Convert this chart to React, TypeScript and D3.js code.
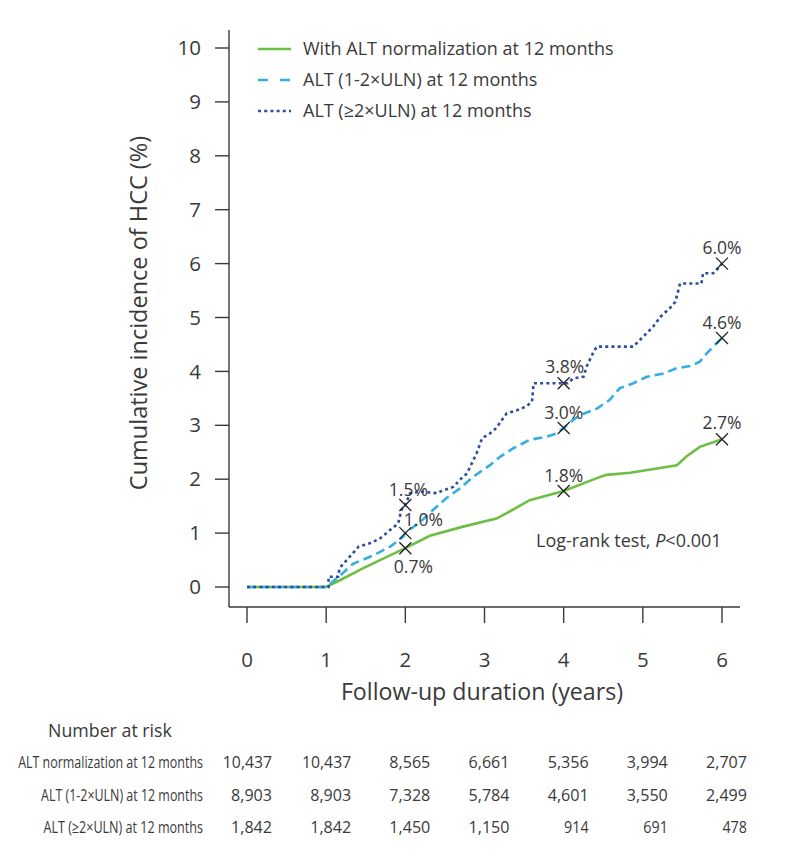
import React from "react";
import * as d3 from "d3";

const years = [0, 1, 2, 3, 4, 5, 6];
const yTicks = [0, 1, 2, 3, 4, 5, 6, 7, 8, 9, 10];

const seriesNames = [
  "With ALT normalization at 12 months",
  "ALT (1-2\u00D7ULN) at 12 months",
  "ALT (\u22652\u00D7ULN)  at 12 months",
];

const normalT = [0, 1.0, 1.18, 1.47, 1.68, 2.0, 2.31, 2.73, 3.15, 3.28, 3.57, 4.0, 4.42, 4.54, 4.84, 5.18, 5.43, 5.55, 5.72, 6.0];
const normalV = [0, 0, 0.13, 0.35, 0.5, 0.72, 0.95, 1.12, 1.27, 1.37, 1.61, 1.78, 2.02, 2.08, 2.12, 2.2, 2.26, 2.42, 2.6, 2.74];

const midT = [0, 1.0, 1.18, 1.34, 1.6, 1.81, 1.97, 2.0, 2.19, 2.35, 2.52, 2.69, 2.86, 3.07, 3.2, 3.36, 3.57, 3.79, 3.91, 4.0, 4.12, 4.21, 4.42, 4.58, 4.71, 4.88, 5.05, 5.26, 5.43, 5.6, 5.72, 5.81, 5.91, 6.0];
const midV = [0, 0, 0.22, 0.43, 0.59, 0.75, 0.93, 1.0, 1.21, 1.43, 1.65, 1.83, 2.05, 2.26, 2.42, 2.57, 2.73, 2.79, 2.85, 2.95, 3.1, 3.19, 3.31, 3.47, 3.69, 3.78, 3.9, 3.96, 4.06, 4.1, 4.18, 4.34, 4.49, 4.62];

const highT = [0, 1.03, 1.03, 1.15, 1.17, 1.26, 1.41, 1.55, 1.68, 1.81, 1.91, 1.95, 2.0, 2.06, 2.19, 2.4, 2.44, 2.61, 2.69, 2.78, 2.9, 2.97, 3.07, 3.15, 3.22, 3.28, 3.41, 3.53, 3.6, 3.62, 4.05, 4.12, 4.25, 4.29, 4.37, 4.42, 4.88, 4.96, 5.05, 5.13, 5.22, 5.34, 5.41, 5.45, 5.47, 5.74, 5.76, 5.89, 5.95, 6.0];
const highV = [0, 0, 0.19, 0.19, 0.35, 0.5, 0.75, 0.81, 0.9, 1.06, 1.18, 1.43, 1.52, 1.74, 1.77, 1.74, 1.77, 1.86, 1.99, 2.11, 2.48, 2.76, 2.85, 2.95, 3.1, 3.22, 3.28, 3.35, 3.44, 3.78, 3.78, 3.87, 3.9, 4.09, 4.34, 4.46, 4.46, 4.58, 4.71, 4.83, 5.01, 5.17, 5.29, 5.51, 5.63, 5.63, 5.82, 5.82, 5.91, 6.0];

const markT = [2, 2, 2, 4, 4, 4, 6, 6, 6];
const markV = [0.72, 1.0, 1.52, 1.78, 2.95, 3.78, 2.74, 4.62, 6.0];
const markLabels = ["0.7%", "1.0%", "1.5%", "1.8%", "3.0%", "3.8%", "2.7%", "4.6%", "6.0%"];

const riskGroups = [
  "ALT normalization at 12 months",
  "ALT (1-2\u00D7ULN) at 12 months",
  "ALT (\u22652\u00D7ULN)  at 12 months",
];
const riskNormal = ["10,437", "10,437", "8,565", "6,661", "5,356", "3,994", "2,707"];
const riskMid = ["8,903", "8,903", "7,328", "5,784", "4,601", "3,550", "2,499"];
const riskHigh = ["1,842", "1,842", "1,450", "1,150", "914", "691", "478"];

const FONT = "'Open Sans', 'Noto Sans', sans-serif";
const TXT = "#3a3a3a";
const COLORS = ["#6fbe44", "#35aee0", "#2d4da0"];
const DASH = [null, "9,5", "3,3.2"];

function measure(text: string, size: number): number {
  try {
    const c = document.createElement("canvas").getContext("2d");
    if (!c) return text.length * size * 0.52;
    c.font = `${size}px 'Open Sans', 'Noto Sans', sans-serif`;
    return c.measureText(text).width;
  } catch (e) {
    return text.length * size * 0.52;
  }
}

export default function App() {
  const x = d3.scaleLinear().domain([0, 6]).range([247, 722]);
  const y = d3.scaleLinear().domain([0, 10]).range([587, 48]);
  const line = d3
    .line<[number, number]>()
    .x((d) => x(d[0]))
    .y((d) => y(d[1]));

  const series = [
    d3.zip(normalT, normalV) as [number, number][],
    d3.zip(midT, midV) as [number, number][],
    d3.zip(highT, highV) as [number, number][],
  ];

  const labelOff: [number, number][] = [
    [8, 19],
    [18, -13],
    [3, -15],
    [0, -15],
    [0, -15],
    [1, -16],
    [0, -16],
    [0, -15],
    [0, -16],
  ];

  const riskRows = [riskNormal, riskMid, riskHigh];
  const riskY = [762, 795, 827];
  const riskLabelW = [185, 162, 163];
  const riskFont = 16.5;

  return (
    <svg
      width={791}
      height={853}
      style={{ position: "absolute", left: 0, top: 0, background: "#fff" }}
      fontFamily={FONT}
    >
      <line x1={229} y1={30} x2={229} y2={607} stroke={TXT} strokeWidth={1.4} />
      <line x1={229} y1={607} x2={740} y2={607} stroke={TXT} strokeWidth={1.4} />
      {yTicks.map((t) => (
        <g key={"y" + t}>
          <line x1={215} x2={229} y1={y(t)} y2={y(t)} stroke={TXT} strokeWidth={1.4} />
          <text x={201} y={y(t)} dy="0.35em" textAnchor="end" fontSize={20.5} fill={TXT}>
            {t}
          </text>
        </g>
      ))}
      {years.map((t) => (
        <g key={"x" + t}>
          <line x1={x(t)} x2={x(t)} y1={607} y2={623} stroke={TXT} strokeWidth={1.4} />
          <text x={x(t)} y={660} dy="0.35em" textAnchor="middle" fontSize={20.5} fill={TXT}>
            {t}
          </text>
        </g>
      ))}
      <text x={482} y={692} dy="0.35em" textAnchor="middle" fontSize={23.2} fill={TXT}>
        Follow-up duration (years)
      </text>
      <text
        transform="translate(139,313) rotate(-90)"
        dy="0.35em"
        textAnchor="middle"
        fontSize={23.5}
        fill={TXT}
      >
        Cumulative incidence of HCC (%)
      </text>

      {series.map((s, i) => (
        <path
          key={"s" + i}
          d={line(s) || ""}
          fill="none"
          stroke={COLORS[i]}
          strokeWidth={2.6}
          strokeDasharray={DASH[i] || undefined}
        />
      ))}

      {markT.map((t, i) => {
        const cx = x(t);
        const cy = y(markV[i]);
        const r = 6;
        return (
          <g key={"m" + i}>
            <path
              d={`M${cx - r},${cy - r}L${cx + r},${cy + r}M${cx - r},${cy + r}L${cx + r},${cy - r}`}
              stroke="#222"
              strokeWidth={1.3}
            />
            <text
              x={cx + labelOff[i][0]}
              y={cy + labelOff[i][1]}
              dy="0.35em"
              textAnchor="middle"
              fontSize={17.5}
              fill={TXT}
            >
              {markLabels[i]}
            </text>
          </g>
        );
      })}

      <text x={536} y={541} dy="0.35em" fontSize={18} fill={TXT}>
        Log-rank test, <tspan fontStyle="italic">P</tspan>{"<0.001"}
      </text>

      {seriesNames.map((n, i) => {
        const ly = 49 + i * 31;
        return (
          <g key={"l" + i}>
            <line
              x1={258}
              x2={291}
              y1={ly}
              y2={ly}
              stroke={COLORS[i]}
              strokeWidth={2.6}
              strokeDasharray={i === 1 ? "10,12" : i === 2 ? "3,3.2" : undefined}
            />
            <text x={303} y={ly} dy="0.35em" fontSize={18} fill={TXT}>
              {n}
            </text>
          </g>
        );
      })}

      <text x={48} y={731} dy="0.35em" fontSize={17.8} fill={TXT}>
        Number at risk
      </text>
      {riskGroups.map((g, i) => {
        const w = measure(g, riskFont);
        const sx = riskLabelW[i] / w;
        return (
          <g key={"r" + i}>
            <text
              transform={`translate(203,${riskY[i]}) scale(${sx},1)`}
              dy="0.35em"
              textAnchor="end"
              fontSize={riskFont}
              fill={TXT}
            >
              {g}
            </text>
            {riskRows[i].map((v, j) => {
              const vw = measure(v, riskFont);
              const vs = Math.min(1, (v.length * 8.2) / vw);
              return (
                <text
                  key={j}
                  transform={`translate(${x(years[j]) + 25},${riskY[i]}) scale(${vs},1)`}
                  dy="0.35em"
                  textAnchor="end"
                  fontSize={riskFont}
                  fill={TXT}
                >
                  {v}
                </text>
              );
            })}
          </g>
        );
      })}
    </svg>
  );
}
